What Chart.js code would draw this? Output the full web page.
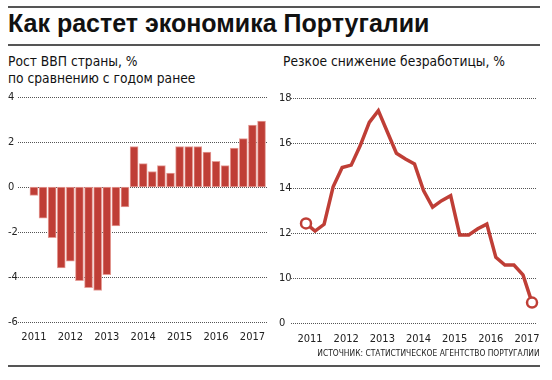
<!DOCTYPE html>
<html><head><meta charset="utf-8">
<script src="https://cdn.jsdelivr.net/npm/chart.js@4/dist/chart.umd.min.js"></script>
<style>
html,body{margin:0;padding:0;background:#fff;width:552px;height:380px;overflow:hidden;}
#wrap{position:relative;width:552px;height:380px;}
.rule{position:absolute;left:8px;width:532px;height:2px;background:#555;}
#title{position:absolute;left:8px;top:9px;font:bold 25px 'Liberation Sans',Arial,sans-serif;color:#111;white-space:nowrap;}
.sub{position:absolute;font:13.7px 'DejaVu Sans Condensed',sans-serif;color:#111;line-height:17px;white-space:nowrap;}
#src{position:absolute;right:12px;top:347px;font:9.5px 'DejaVu Sans Condensed',sans-serif;color:#222;white-space:nowrap;transform:scaleX(0.88);transform-origin:right center;}
canvas{position:absolute;}
</style></head>
<body><div id="wrap">
<div class="rule" style="top:6px"></div>
<div id="title">Как растет экономика Португалии</div>
<div class="rule" style="top:44px"></div>
<div class="sub" style="left:8px;top:53px">Рост ВВП страны, %<br>по сравнению с годом ранее</div>
<div class="sub" style="left:283px;top:53px">Резкое снижение безработицы, %</div>
<canvas id="c1" width="276" height="265" style="left:0;top:85px"></canvas>
<canvas id="c2" width="276" height="265" style="left:276px;top:85px"></canvas>
<div id="src">ИСТОЧНИК: СТАТИСТИЧЕСКОЕ АГЕНТСТВО ПОРТУГАЛИИ</div>
<div class="rule" style="top:365px"></div>
</div>
<script>
// Quarterly data, 2011 Q1 – 2017 Q2
const quarters = ['2011 Q1','2011 Q2','2011 Q3','2011 Q4','2012 Q1','2012 Q2','2012 Q3','2012 Q4','2013 Q1','2013 Q2','2013 Q3','2013 Q4','2014 Q1','2014 Q2','2014 Q3','2014 Q4','2015 Q1','2015 Q2','2015 Q3','2015 Q4','2016 Q1','2016 Q2','2016 Q3','2016 Q4','2017 Q1','2017 Q2'];
const gdpGrowth = [-0.37,-1.38,-2.25,-3.6,-3.3,-4.16,-4.47,-4.6,-3.9,-1.73,-0.88,1.8,1.04,0.69,0.95,0.62,1.8,1.8,1.8,1.55,1.14,0.95,1.73,2.15,2.75,2.93];
const unemployment = [12.44,12.1,12.4,14.07,14.92,15.03,15.9,16.93,17.45,16.5,15.56,15.3,15.08,13.9,13.16,13.45,13.67,11.93,11.93,12.2,12.41,10.93,10.59,10.59,10.15,8.92];
const yearLabels = ['2011','2012','2013','2014','2015','2016','2017'];
const yearTickIndex = [0,4,8,12,16,20,24];
const gdpTicks = [-6,-4,-2,0,2,4];
const unempTicks = [8,10,12,14,16,18];
const unempTickLabels = ['0','10','12','14','16','18'];

const RED = '#bf3e36';
const FONT = "'DejaVu Sans Condensed',sans-serif";
Chart.defaults.font.family = FONT;
Chart.defaults.color = '#222';

// dotted horizontal gridlines at the y scale's ticks
const dottedGrid = {
  id:'dottedGrid',
  beforeDatasetsDraw(chart){
    const {ctx, chartArea:a} = chart;
    const ys = chart.scales.y;
    ctx.save();
    ctx.fillStyle = '#555555';
    ys.ticks.forEach(t => {
      const y = Math.round(ys.getPixelForValue(t.value));
      for (let x = Math.round(a.left); x < a.right; x += 2) ctx.fillRect(x, y, 1, 1);
    });
    ctx.restore();
  }
};

function xScale(min, max, labelOffset){
  return {
    type:'linear', min:min, max:max, offset:false,
    grid:{display:false, drawTicks:false, offset:false},
    border:{display:false},
    afterBuildTicks: s => { s.ticks = yearTickIndex.map(v => ({value:v})); },
    afterFit: s => { s.height = 22; },
    ticks:{font:{size:11}, color:'#222', padding:9, maxRotation:0, autoSkip:false, labelOffset:labelOffset,
      callback: v => { const i = yearTickIndex.indexOf(v); return i >= 0 ? yearLabels[i] : ''; }}
  };
}
function yScale(min, max, tickVals, width, labelFn){
  return {
    type:'linear', min:min, max:max,
    grid:{display:false, drawTicks:false},
    border:{display:false},
    afterBuildTicks: s => { s.ticks = tickVals.map(v => ({value:v})); },
    afterFit: s => { s.width = width; },
    ticks:{font:{size:11}, color:'#222', padding:0, crossAlign:'far', callback: labelFn}
  };
}

new Chart(document.getElementById('c1'), {
  type:'bar',
  data:{datasets:[{
    data: gdpGrowth.map((v,i) => ({x:i, y:v})),
    backgroundColor: RED, borderColor:'#e59d97', borderWidth:1, borderSkipped:false,
    barThickness: 8
  }]},
  options:{
    responsive:false, animation:false, events:[],
    layout:{padding:{left:8, right:9, top:12, bottom:6}},
    plugins:{legend:{display:false}, tooltip:{enabled:false}},
    scales:{
      x: xScale(-1.75, 25.6, 0),
      y: yScale(-6, 4, gdpTicks, 10, v => String(v))
    }
  },
  plugins:[dottedGrid]
});

new Chart(document.getElementById('c2'), {
  type:'line',
  data:{labels: quarters, datasets:[{
    data: unemployment.map((v,i) => ({x:i, y:v})),
    borderColor: RED, borderWidth: 3.5, tension: 0, fill:false,
    borderJoinStyle:'miter',
    pointRadius: ctx => (ctx.dataIndex === 0 || ctx.dataIndex === unemployment.length - 1) ? 5 : 0,
    pointBackgroundColor:'#fff', pointBorderColor: RED, pointBorderWidth: 2.5,
    clip:false
  }]},
  options:{
    responsive:false, animation:false, events:[],
    layout:{padding:{left:3, right:15, top:13.3, bottom:4.7}},
    plugins:{legend:{display:false}, tooltip:{enabled:false}},
    scales:{
      x: xScale(-1.66, 25.55, 4),
      y: yScale(8, 18, unempTicks, 12, v => unempTickLabels[unempTicks.indexOf(v)])
    }
  },
  plugins:[dottedGrid]
});
</script>
</body></html>
